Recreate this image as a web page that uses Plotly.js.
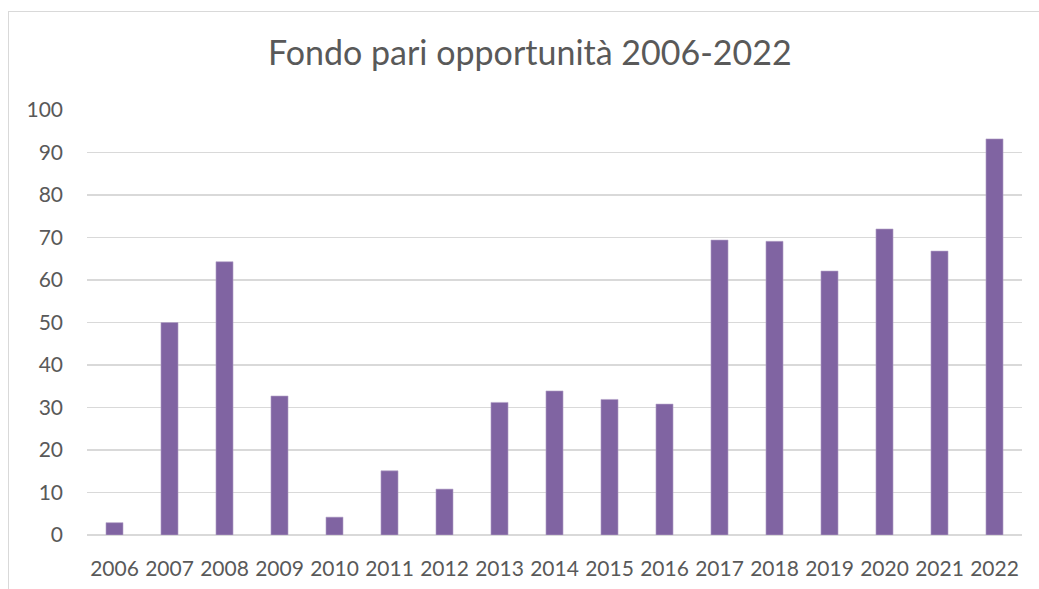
<!DOCTYPE html>
<html>
<head>
<meta charset="utf-8">
<script src="https://cdn.plot.ly/plotly-3.0.1.min.js"></script>
<style>
html,body{margin:0;padding:0;background:#fff;}
#chart{width:1039px;height:589px;position:absolute;left:0;top:0;}
#frame{position:absolute;left:8px;top:11px;width:1040px;height:600px;border-left:1px solid #d9d9d9;border-top:1px solid #d9d9d9;pointer-events:none;}
</style>
</head>
<body>
<div id="chart"></div>
<div id="frame"></div>
<script>
const years = ["2006","2007","2008","2009","2010","2011","2012","2013","2014","2015","2016","2017","2018","2019","2020","2021","2022"];
const values = [2.9, 50.0, 64.3, 32.7, 4.2, 15.1, 10.8, 31.2, 33.9, 31.9, 30.8, 69.4, 69.1, 62.1, 72.0, 66.8, 93.2];
const yTicks = [0,10,20,30,40,50,60,70,80,90,100];
const chartTitle = "Fondo pari opportunità 2006-2022";

const font = "Lato, 'Open Sans', sans-serif";
Plotly.newPlot("chart", [{
  type: "bar",
  x: years,
  y: values,
  marker: {color: "#8064A2", line: {color: "#b3a2c7", width: 0.6}},
  hoverinfo: "x+y"
}], {
  width: 1039, height: 589,
  margin: {l: 87, r: 17, t: 110, b: 54},
  paper_bgcolor: "#fff", plot_bgcolor: "#fff",
  bargap: 0.69,
  showlegend: false,
  title: {text: chartTitle, x: 0.51, xanchor: "center", y: 0.91, yanchor: "middle", yref: "container",
          font: {family: font, size: 34, color: "#595959"}},
  xaxis: {type: "category", showgrid: false, showline: false, zeroline: false, ticks: "",
          ticklabelstandoff: 19,
          tickfont: {family: font, size: 21, color: "#595959"}},
  yaxis: {range: [0, 100], tickvals: yTicks, ticktext: yTicks.map(String),
          showgrid: true, gridcolor: "#d9d9d9", gridwidth: 1.3,
          zeroline: true, zerolinecolor: "#d9d9d9", zerolinewidth: 1.3,
          showline: false, ticks: "", ticklabelstandoff: 23,
          tickfont: {family: font, size: 21, color: "#595959"}}
}, {staticPlot: true});
</script>
</body>
</html>
